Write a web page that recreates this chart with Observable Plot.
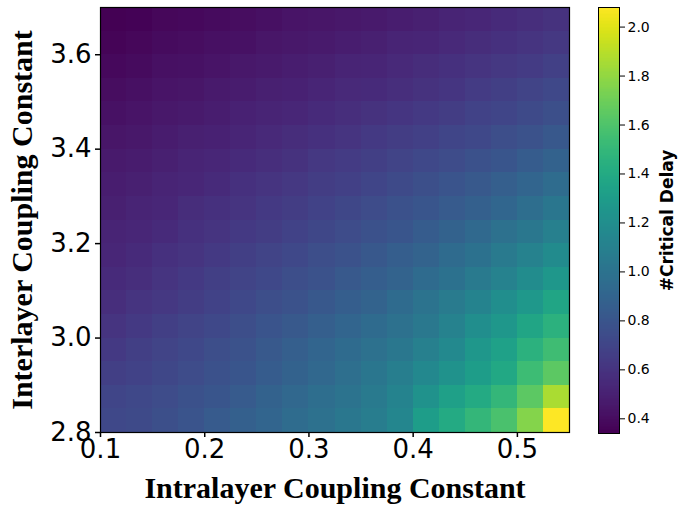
<!DOCTYPE html>
<html>
<head>
<meta charset="utf-8">
<script src="https://cdn.jsdelivr.net/npm/d3@7"></script>
<script src="https://cdn.jsdelivr.net/npm/@observablehq/plot@0.6"></script>
<style>
  html, body { margin: 0; padding: 0; background: white; }
  #wrap { position: relative; width: 678px; height: 506px; }
  #main { position: absolute; left: 0; top: 0; }
  #bar { position: absolute; left: 570px; top: 0; }
</style>
</head>
<body>
<div id="wrap"><div id="main"></div><div id="bar"></div></div>
<script>
// Intralayer coupling constant (left edge of each column)
const intralayer = [0.1, 0.125, 0.15, 0.175, 0.2, 0.225, 0.25, 0.275, 0.3, 0.325, 0.35, 0.375, 0.4, 0.425, 0.45, 0.475, 0.5, 0.525];
// Interlayer coupling constant (bottom edge of each row)
const interlayer = [2.8, 2.85, 2.9, 2.95, 3.0, 3.05, 3.1, 3.15, 3.2, 3.25, 3.3, 3.35, 3.4, 3.45, 3.5, 3.55, 3.6, 3.65];
// Critical delay, one row per interlayer value (bottom to top)
const delayRows = [
  [0.72,0.73,0.76,0.79,0.83,0.87,0.90,0.95,0.98,1.03,1.07,1.14,1.30,1.40,1.49,1.58,1.76,2.08],
  [0.70,0.72,0.74,0.77,0.80,0.83,0.88,0.92,0.96,1.00,1.05,1.12,1.22,1.32,1.40,1.49,1.64,1.86],
  [0.66,0.68,0.71,0.74,0.77,0.80,0.84,0.88,0.92,0.97,1.02,1.08,1.15,1.22,1.30,1.38,1.53,1.64],
  [0.63,0.66,0.69,0.72,0.75,0.78,0.82,0.86,0.90,0.94,0.98,1.03,1.09,1.16,1.26,1.33,1.45,1.54],
  [0.60,0.63,0.66,0.69,0.72,0.75,0.79,0.82,0.86,0.90,0.94,0.98,1.04,1.11,1.19,1.26,1.36,1.45],
  [0.57,0.60,0.62,0.65,0.68,0.72,0.75,0.78,0.81,0.85,0.89,0.94,1.00,1.06,1.12,1.19,1.27,1.36],
  [0.55,0.57,0.60,0.63,0.66,0.69,0.72,0.75,0.78,0.82,0.85,0.89,0.94,0.99,1.05,1.11,1.18,1.26],
  [0.53,0.55,0.58,0.60,0.63,0.66,0.69,0.72,0.75,0.78,0.81,0.85,0.89,0.94,0.99,1.05,1.11,1.17],
  [0.51,0.53,0.55,0.58,0.60,0.63,0.65,0.68,0.71,0.74,0.77,0.80,0.84,0.88,0.93,0.98,1.03,1.09],
  [0.49,0.51,0.53,0.56,0.58,0.60,0.63,0.65,0.68,0.71,0.74,0.77,0.80,0.83,0.87,0.91,0.96,1.02],
  [0.48,0.49,0.51,0.53,0.55,0.58,0.60,0.62,0.65,0.67,0.70,0.73,0.76,0.79,0.82,0.86,0.90,0.95],
  [0.46,0.47,0.49,0.51,0.53,0.55,0.57,0.59,0.62,0.64,0.66,0.69,0.72,0.74,0.77,0.80,0.84,0.88],
  [0.44,0.45,0.47,0.49,0.50,0.52,0.54,0.56,0.58,0.60,0.63,0.65,0.67,0.70,0.72,0.75,0.78,0.81],
  [0.42,0.43,0.45,0.46,0.48,0.50,0.51,0.53,0.55,0.57,0.59,0.61,0.63,0.65,0.68,0.70,0.73,0.76],
  [0.40,0.41,0.43,0.44,0.46,0.47,0.49,0.50,0.52,0.54,0.55,0.57,0.59,0.61,0.64,0.66,0.69,0.72],
  [0.38,0.39,0.41,0.42,0.43,0.45,0.46,0.48,0.49,0.51,0.52,0.54,0.56,0.58,0.60,0.62,0.64,0.67],
  [0.36,0.37,0.39,0.40,0.41,0.42,0.44,0.45,0.46,0.48,0.49,0.51,0.52,0.54,0.56,0.58,0.60,0.62],
  [0.34,0.35,0.37,0.38,0.39,0.40,0.41,0.43,0.44,0.45,0.46,0.48,0.49,0.51,0.53,0.55,0.57,0.59]
];
const xTicks = [0.1, 0.2, 0.3, 0.4, 0.5];
const yTicks = [2.8, 3.0, 3.2, 3.4, 3.6];
const barTicks = [0.4, 0.6, 0.8, 1.0, 1.2, 1.4, 1.6, 1.8, 2.0];
const colorDomain = [0.34, 2.08];
const xLabel = "Intralayer Coupling Constant";
const yLabel = "Interlayer Coupling Constant";
const barLabel = "#Critical Delay";

const dxStep = intralayer[1] - intralayer[0];
const dyStep = interlayer[1] - interlayer[0];
const cells = [];
delayRows.forEach((row, j) => row.forEach((v, i) => {
  cells.push({x1: intralayer[i], x2: intralayer[i] + dxStep, y1: interlayer[j], y2: interlayer[j] + dyStep, v});
}));

const fmt = d3.format(".1f");
const colorScale = {type: "linear", scheme: "viridis", domain: colorDomain};

const main = Plot.plot({
  width: 678, height: 506,
  marginLeft: 100, marginRight: 109, marginTop: 7, marginBottom: 74,
  style: {fontFamily: "DejaVu Sans", background: "white", color: "black"},
  x: {domain: [intralayer[0], intralayer[intralayer.length - 1] + dxStep]},
  y: {domain: [interlayer[0], interlayer[interlayer.length - 1] + dyStep]},
  color: colorScale,
  marks: [
    Plot.rect(cells, {x1: "x1", x2: "x2", y1: "y1", y2: "y2", fill: "v", shapeRendering: "crispEdges"}),
    Plot.frame({stroke: "black", strokeWidth: 1.2}),
    Plot.axisX({ticks: xTicks, tickFormat: fmt, tickSize: 5, tickPadding: 2, fontSize: 26, strokeWidth: 1.5, label: null}),
    Plot.axisY({ticks: yTicks, tickFormat: fmt, tickSize: 5, tickPadding: 4, fontSize: 26, strokeWidth: 1.5, label: null}),
    Plot.text([xLabel], {frameAnchor: "bottom", textAnchor: "middle", lineAnchor: "middle", dy: 56, fontFamily: "Liberation Serif", fontWeight: "bold", fontSize: 30, fill: "black"}),
    Plot.text([yLabel], {frameAnchor: "left", textAnchor: "middle", lineAnchor: "middle", dx: -78, rotate: -90, fontFamily: "Liberation Serif", fontWeight: "bold", fontSize: 30, fill: "black"})
  ]
});
document.getElementById("main").appendChild(main);

const step = (colorDomain[1] - colorDomain[0]) / 300;
const ramp = d3.range(colorDomain[0], colorDomain[1], step);
const bar = Plot.plot({
  width: 108, height: 506,
  marginLeft: 28, marginRight: 59, marginTop: 7, marginBottom: 73,
  style: {fontFamily: "DejaVu Sans", background: "transparent", color: "black"},
  x: {domain: [0, 1], axis: null},
  y: {domain: colorDomain},
  color: colorScale,
  marks: [
    Plot.rect(ramp, {x1: 0, x2: 1, y1: d => d, y2: d => d + step * 1.05, fill: d => d, shapeRendering: "crispEdges"}),
    Plot.frame({stroke: "black", strokeWidth: 1}),
    Plot.axisY({anchor: "right", ticks: barTicks, tickFormat: fmt, tickSize: 5, tickPadding: 3, fontSize: 14, label: null}),
    Plot.text([barLabel], {frameAnchor: "right", textAnchor: "middle", lineAnchor: "middle", dx: 48, rotate: -90, fontWeight: "bold", fontSize: 17, fill: "black"})
  ]
});
document.getElementById("bar").appendChild(bar);
</script>
</body>
</html>
